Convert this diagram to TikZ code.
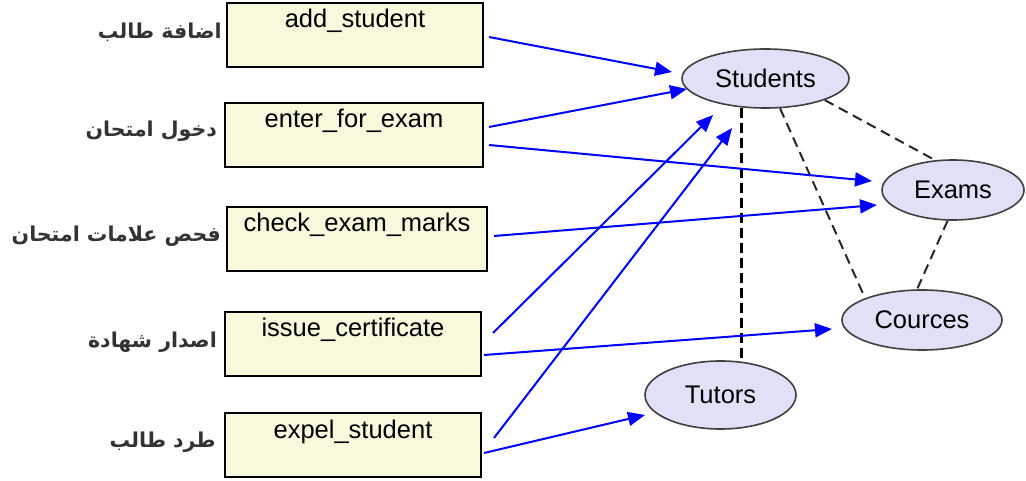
\documentclass[tikz,border=0pt]{standalone}
\usepackage{fontspec}
\setmainfont{Liberation Sans}
\newfontfamily\arabicfont[Script=Arabic]{DejaVu Sans}
\TeXXeTstate=1
\usetikzlibrary{shapes.geometric,arrows.meta,calc}
\definecolor{boxfill}{RGB}{248,248,220}
\definecolor{ellfill}{RGB}{224,225,247}
\tikzset{
  ucase/.style={draw=black, line width=2pt, fill=boxfill, inner sep=0pt,
    text height=25pt, text depth=39pt, font=\fontsize{25.5}{28}\selectfont},
  entity/.style={ellipse, draw=black!75, line width=1.6pt, fill=ellfill, inner sep=0pt,
    font=\fontsize{25.5}{28}\selectfont},
  arlabel/.style={anchor=base east, inner sep=0pt, text=black!80,
    font=\arabicfont\bfseries\fontsize{20.5}{24}\selectfont},
  assoc/.style={blue, line width=2pt, -{Triangle[length=17pt,width=14pt]}},
  link/.style={draw=black!85, line width=2pt, dash pattern=on 10pt off 6pt},
  vlink/.style={draw=black, line width=2.8pt, dash pattern=on 10pt off 5pt},
}
\begin{document}
\begin{tikzpicture}[x=1pt,y=-1pt]
\useasboundingbox (0,0) rectangle (1026,481);
% use case boxes
\node[ucase, minimum width=256pt] (add)    at (355,35)    {add\_student};
\node[ucase, minimum width=258pt] (enter)  at (354,135)   {enter\_for\_exam};
\node[ucase, minimum width=260pt] (check)  at (357,239)   {check\_exam\_marks};
\node[ucase, minimum width=256pt] (issue)  at (353,343.5) {issue\_certificate};
\node[ucase, minimum width=256pt] (expel)  at (353,445)   {expel\_student};
% arabic labels
\node[arlabel] (ladd)   at ([shift={(-4,4)}]add.west)    {\beginR اضافة طالب\endR};
\node[arlabel] (lenter) at ([shift={(-7,2)}]enter.west)  {\beginR دخول امتحان\endR};
\node[arlabel] (lcheck) at ([shift={(-5,3)}]check.west)  {\beginR فحص علامات امتحان\endR};
\node[arlabel] (lissue) at ([shift={(-7,4)}]issue.west)  {\beginR اصدار شهادة\endR};
\node[arlabel] (lexpel) at ([shift={(-8,2)}]expel.west)  {\beginR طرد طالب\endR};
% entities
\node[entity, minimum width=167pt, minimum height=59pt] (Students) at (765.5,78.5) {Students};
\node[entity, minimum width=142pt, minimum height=60pt] (Exams)    at (953,190)    {Exams};
\node[entity, minimum width=160pt, minimum height=60pt] (Cources)  at (922,320)    {Cources};
\node[entity, minimum width=151pt, minimum height=68pt] (Tutors)   at (720.5,395)  {Tutors};
% dashed links
\draw[vlink] (Students.230) -- (Students.230 |- Tutors.north);
\draw[link] (Students.296) -- (Cources.159);
\draw[link] (Students.340) -- (Exams.121);
\draw[link] (Exams.260) -- (Cources.99);
% arrows
\draw[assoc] ([shift={(5,2)}]add.east)      -- ([shift={(-93.5,-6.5)}]Students.center);
\draw[assoc] ([shift={(5,-8)}]enter.east)   -- ([shift={(-78.5,10.5)}]Students.center);
\draw[assoc] ([shift={(5,10)}]enter.east)   -- ([shift={(-81,-9)}]Exams.center);
\draw[assoc] ([shift={(6,-3)}]check.east)   -- ([shift={(-76,15)}]Exams.center);
\draw[assoc] ([shift={(11,-10.5)}]issue.east) -- ([shift={(-52.5,36.5)}]Students.center);
\draw[assoc] ([shift={(2,11.5)}]issue.east) -- ([shift={(-90,9)}]Cources.center);
\draw[assoc] ([shift={(12,-7)}]expel.east)  -- ([shift={(-33.5,49.5)}]Students.center);
\draw[assoc] ([shift={(2,8)}]expel.east)    -- ([shift={(-75.5,20)}]Tutors.center);
\end{tikzpicture}
\end{document}
